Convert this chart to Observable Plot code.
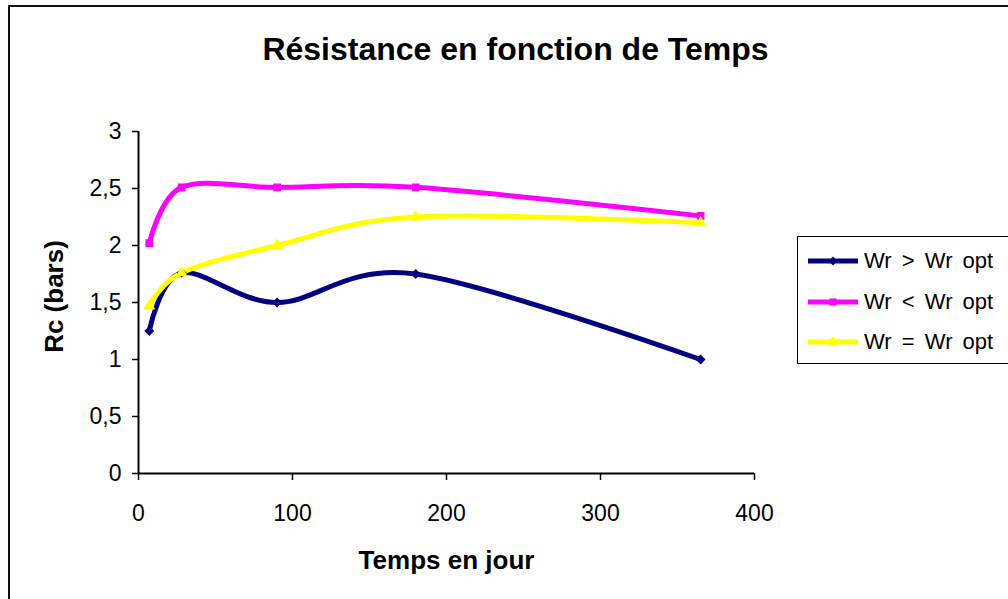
<!DOCTYPE html>
<html>
<head>
<meta charset="utf-8">
<script src="https://cdn.jsdelivr.net/npm/d3@7"></script>
<script src="https://cdn.jsdelivr.net/npm/@observablehq/plot@0.6"></script>
<style>
  html, body { margin: 0; padding: 0; background: #fff; }
  body { width: 1008px; height: 599px; position: relative; overflow: hidden; font-family: Arial, "Liberation Sans", sans-serif; }
  #frame { position: absolute; left: 8px; top: 5px; width: 1100px; height: 700px; border: 2px solid #111; box-sizing: border-box; }
  #chart { position: absolute; left: 0; top: 0; }
  #legend { position: absolute; left: 797px; top: 236px; width: 300px; height: 128px; border: 1.5px solid #000; box-sizing: border-box; background: #fff; }
  .item { position: absolute; left: 10px; height: 30px; display: flex; align-items: center; }
  .item span { font-size: 22px; margin-left: 6px; color: #000; word-spacing: 4px; }
</style>
</head>
<body>
<div id="frame"></div>
<div id="chart"></div>
<div id="legend"></div>
<script>
const days = [7, 28, 90, 180, 365];
const seriesNames = ["Wr > Wr opt", "Wr < Wr opt", "Wr = Wr opt"];
const wrAbove = [1.25, 1.76, 1.5, 1.75, 1.0];
const wrBelow = [2.02, 2.51, 2.51, 2.51, 2.26];
const wrEqual = [1.47, 1.76, 2.0, 2.25, 2.2];
const seriesColors = ["#000080", "#ff00ff", "#ffff00"];
const seriesSymbols = ["diamond2", "square", "triangle"];
const xTicks = [0, 100, 200, 300, 400];
const yTicks = [0, 0.5, 1, 1.5, 2, 2.5, 3];
const titleText = "Résistance en fonction de Temps";
const xLabel = "Temps en jour";
const yLabel = "Rc (bars)";

const valuesBySeries = [wrAbove, wrBelow, wrEqual];
const data = [];
seriesNames.forEach((s, i) => days.forEach((d, j) => data.push({series: s, day: d, rc: valuesBySeries[i][j]})));

const fmt = d => String(d).replace(".", ",");

const chart = Plot.plot({
  width: 1008,
  height: 599,
  marginLeft: 138,
  marginRight: 254,
  marginTop: 131,
  marginBottom: 126,
  style: {fontFamily: "Arial, 'Liberation Sans', sans-serif", color: "#000", background: "transparent"},
  x: {domain: [0, 400]},
  y: {domain: [0, 3]},
  color: {domain: seriesNames, range: seriesColors},
  symbol: {domain: seriesNames, range: seriesSymbols},
  marks: [
    Plot.axisX({ticks: xTicks, tickSize: 7, tickPadding: 24, fontSize: 23, tickFormat: fmt, label: null, strokeWidth: 1.5}),
    Plot.axisY({ticks: yTicks, tickSize: 6, tickPadding: 11, fontSize: 23, tickFormat: fmt, label: null, strokeWidth: 1.5}),
    Plot.ruleX([0], {stroke: "#000", strokeWidth: 2}),
    Plot.ruleY([0], {stroke: "#000", strokeWidth: 2}),
    Plot.line(data, {x: "day", y: "rc", z: "series", stroke: "series", strokeWidth: 5, curve: "cardinal"}),
    Plot.dot(data, {x: "day", y: "rc", symbol: "series", fill: "series", stroke: "series", r: 3.5}),
    Plot.text([titleText], {frameAnchor: "top", dy: -94, dx: 69, fontSize: 32, fontWeight: "bold", fill: "#000"}),
    Plot.text([xLabel], {frameAnchor: "bottom", dy: 95, fontSize: 26, fontWeight: "bold", fill: "#000"}),
    Plot.text([yLabel], {frameAnchor: "left", textAnchor: "middle", dx: -84, dy: -6, rotate: -90, fontSize: 26, fontWeight: "bold", fill: "#000"})
  ]
});
document.getElementById("chart").appendChild(chart);

// legend
const legend = document.getElementById("legend");
const rowTops = [9, 50, 90];
const symGen = {diamond2: d3.symbolDiamond2, square: d3.symbolSquare, triangle: d3.symbolTriangle};
seriesNames.forEach((name, i) => {
  const item = document.createElement("div");
  item.className = "item";
  item.style.top = rowTops[i] + "px";
  const path = d3.symbol(symGen[seriesSymbols[i]], 50)();
  item.innerHTML = `<svg width="50" height="30"><line x1="0" x2="50" y1="15" y2="15" stroke="${seriesColors[i]}" stroke-width="5"/><path transform="translate(25,15)" d="${path}" fill="${seriesColors[i]}"/></svg><span>${name}</span>`;
  legend.appendChild(item);
});
</script>
</body>
</html>
